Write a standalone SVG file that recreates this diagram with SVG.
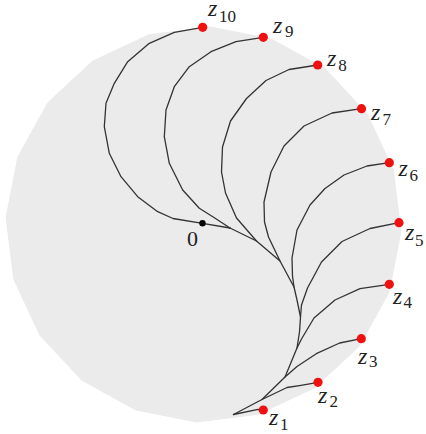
<svg xmlns="http://www.w3.org/2000/svg" width="426" height="434" viewBox="0 0 426 434">
<style>
.disc{fill:#ebebeb;stroke:none}
.br{fill:none;stroke:#333;stroke-width:1.3;stroke-linejoin:round;stroke-linecap:round}
.pt{fill:#f01010}
.root{fill:#000}
text{font-family:"Liberation Serif","Times New Roman","DejaVu Serif",serif;fill:#222}
.z{font-style:italic;font-size:24px}
.sub{font-size:17px}
.lbl{font-size:22px}
</style>
<polygon id="disc" class="disc" points="135.8,410.6 81.6,380.5 39.4,335.2 13.2,279.1 5.6,217.6 17.4,156.8 47.5,102.6 92.8,60.4 148.9,34.2 210.4,26.6 271.2,38.4 325.4,68.5 367.6,113.8 393.8,169.9 401.4,231.4 389.6,292.2 359.5,346.4 314.2,388.6 258.1,414.8 196.6,422.4"/>
<g id="connectors">
<polyline class="br" points="230,228 256.5,241 280,261 294,287 297,300 300.5,317 299.5,332 297,348 285,377 262,399.5 233.5,414.5"/>
<polyline class="br" points="202.7,27.3 174.3,32.3 149.3,43.3 127.7,61.7 114.3,83.3 106,103.3 104.3,126.7 109.3,153.3 121,176.7 137.7,196.7 157.7,211.7 173,218.5 202.5,223.3 230,228"/>
<polyline class="br" points="263.3,37.3 236,41.7 211,51.7 189.3,66.7 174.3,86.7 166,110 164.3,136.7 169.3,163.3 182.7,190 199.3,208.3 214,217.5 230,228"/>
<polyline class="br" points="317.7,65 289,69.5 266,80.5 246.5,98.5 230.5,121 222.5,147 221.5,172 225.5,193 236.5,218 256.5,241"/>
<polyline class="br" points="361.5,108.7 332,113 304,126 284,146 271,172 264,202 264.5,222 268.5,237 280,261"/>
<polyline class="br" points="389.3,162.7 367,166 344,175 325,188.5 310,205 297,230 292,258 292.5,276 294,287"/>
<polyline class="br" points="399,222.7 370,228.5 342,241.5 321.5,262 307.5,288 301.5,305 300.5,317"/>
<polyline class="br" points="389.3,284.3 360,288.7 335,300 314,318 301.5,339 297,348"/>
<polyline class="br" points="361.3,338.7 339.7,343 316.3,353.7 297,366.5 285,377"/>
<polyline class="br" points="318,382.3 301,385.3 287,387.5 262,399.5"/>
<polyline class="br" points="263.3,410 258,409.3 233.5,414.5"/>
</g>
<g id="n0"><circle class="root" cx="202.5" cy="223.3" r="3.2"/><text class="lbl" x="192.5" y="246" text-anchor="middle">0</text></g>
<g id="z1"><circle class="pt" cx="263.3" cy="410" r="4.6"/><text class="z" x="269" y="425">z</text><text class="sub" x="280" y="429.5">1</text></g>
<g id="z2"><circle class="pt" cx="318" cy="382.3" r="4.6"/><text class="z" x="318" y="403">z</text><text class="sub" x="329.5" y="406.5">2</text></g>
<g id="z3"><circle class="pt" cx="361.3" cy="338.7" r="4.6"/><text class="z" x="358" y="363.5">z</text><text class="sub" x="369" y="366.5">3</text></g>
<g id="z4"><circle class="pt" cx="389.3" cy="284.3" r="4.6"/><text class="z" x="393" y="303.5">z</text><text class="sub" x="403.5" y="307.5">4</text></g>
<g id="z5"><circle class="pt" cx="399" cy="222.7" r="4.6"/><text class="z" x="405" y="240">z</text><text class="sub" x="415" y="246">5</text></g>
<g id="z6"><circle class="pt" cx="389.3" cy="162.7" r="4.6"/><text class="z" x="398.5" y="175.5">z</text><text class="sub" x="409.5" y="181">6</text></g>
<g id="z7"><circle class="pt" cx="361.5" cy="108.7" r="4.6"/><text class="z" x="371" y="120">z</text><text class="sub" x="382.5" y="125">7</text></g>
<g id="z8"><circle class="pt" cx="317.7" cy="65" r="4.6"/><text class="z" x="327" y="66">z</text><text class="sub" x="338.3" y="71">8</text></g>
<g id="z9"><circle class="pt" cx="263.3" cy="37.3" r="4.6"/><text class="z" x="273" y="33">z</text><text class="sub" x="285" y="37">9</text></g>
<g id="z10"><circle class="pt" cx="202.7" cy="27.3" r="4.6"/><text class="z" x="208" y="15.5">z</text><text class="sub" x="219" y="21.5">10</text></g>
</svg>
